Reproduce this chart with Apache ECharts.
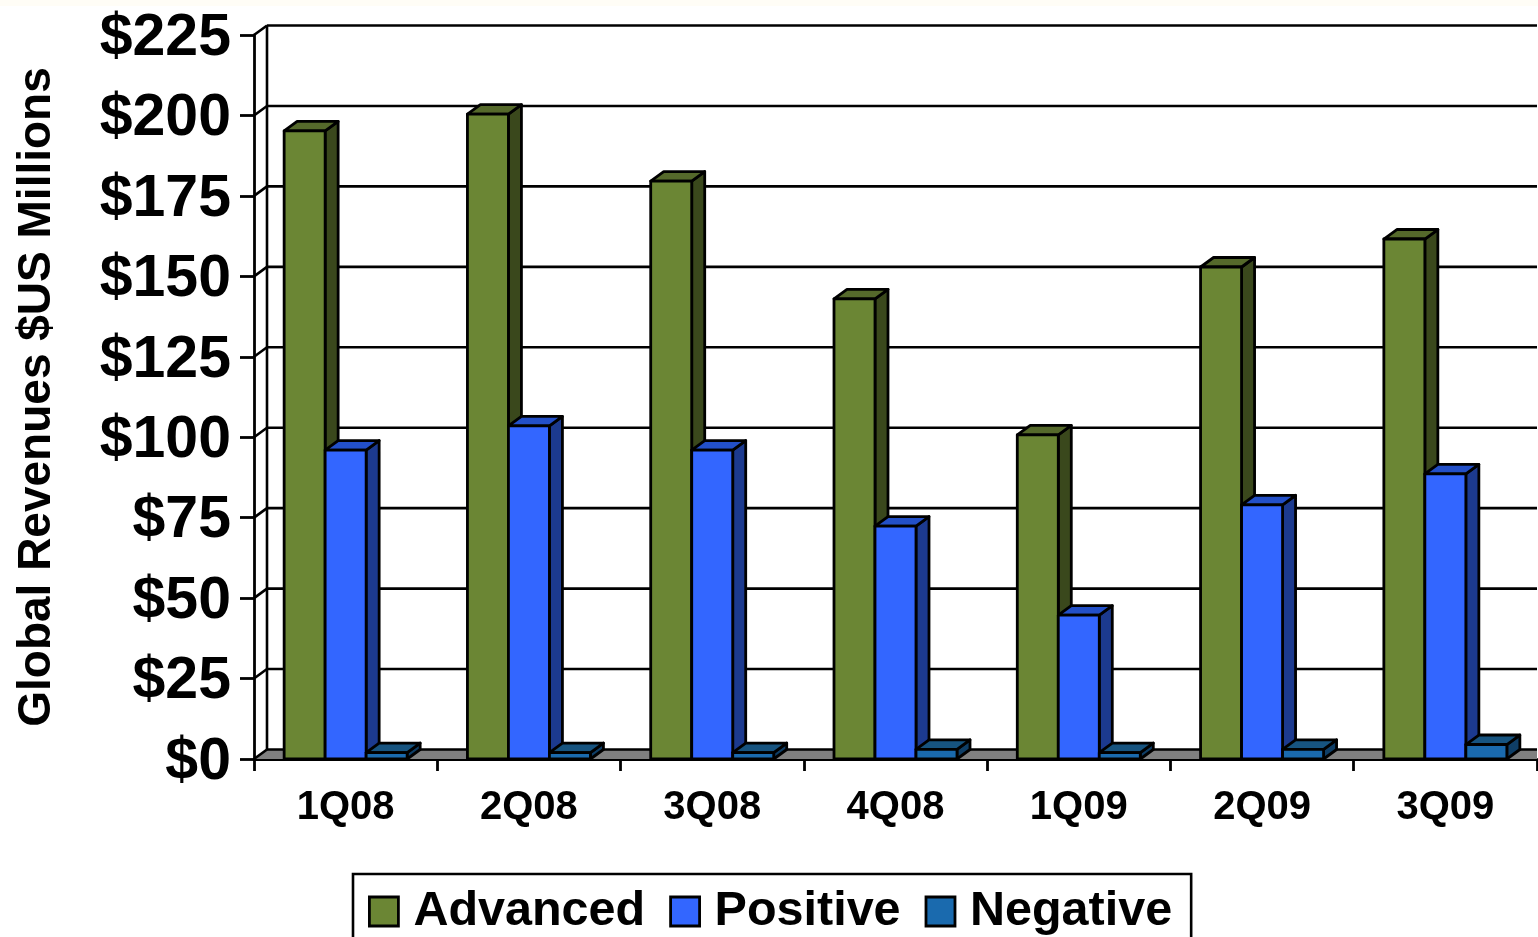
<!DOCTYPE html>
<html><head><meta charset="utf-8">
<style>html,body{margin:0;padding:0;background:#fff;overflow:hidden;width:1538px;height:937px}
#c{width:1538px;height:937px}</style>
<script src="https://cdn.jsdelivr.net/npm/echarts@6/dist/echarts.min.js"></script>
</head><body><div id="c"></div>
<script>
const categories = ['1Q08','2Q08','3Q08','4Q08','1Q09','2Q09','3Q09'];
const advanced = [195.2,200.4,179.6,143,100.7,152.9,161.6];
const positive = [96,103.5,96,72.4,44.7,79,88.6];
const negative = [2,2,2,3,2,3,4.5];
const gridValues = [0,25,50,75,100,125,150,175,200,225];
const font = '"Liberation Sans",Arial,sans-serif';
const DX = 13, DY = 9.5, BAR = 0.2237;
function bar(colors, idx){
  return function(params, api){
    const base = api.coord([api.value(0),0]), top = api.coord([api.value(0),api.value(1)]);
    const band = api.size([1,0])[0], w = band*BAR;
    const x = base[0]+(idx-1.5)*w, y = top[1], b = base[1];
    const line = {stroke:'#000',lineWidth:2.8,lineJoin:'round'};
    return {type:'group',children:[
      {type:'polygon',shape:{points:[[x+w,y],[x+w+DX,y-DY],[x+w+DX,b-DY],[x+w,b]]},style:Object.assign({fill:colors[1]},line)},
      {type:'polygon',shape:{points:[[x,y],[x+DX,y-DY],[x+w+DX,y-DY],[x+w,y]]},style:Object.assign({fill:colors[2]},line)},
      {type:'rect',shape:{x:x,y:y,width:w,height:b-y},style:Object.assign({fill:colors[0]},line)}
    ]};
  };
}
function wall(params, api){
  const cs = params.coordSys, v = api.value(1), y = api.coord([0,v])[1];
  const x0 = cs.x, x1 = cs.x+cs.width, s = {stroke:'#000',lineWidth:2.6}, kids = [];
  if(v===0){
    kids.push({type:'polygon',shape:{points:[[x0,y],[x0+DX,y-DY],[x1,y-DY],[x1,y]]},style:{fill:'#808080'}});
    kids.push({type:'line',shape:{x1:x0+DX,y1:y-DY,x2:x0+DX,y2:api.coord([0,225])[1]-DY},style:s});
  }
  kids.push({type:'line',shape:{x1:x0,y1:y,x2:x0+DX,y2:y-DY},style:s});
  kids.push({type:'line',shape:{x1:x0+DX,y1:y-DY,x2:x1,y2:y-DY},style:s});
  return {type:'group',children:kids};
}
const green=['#6B8634','#3A481C','#55692B'], blue=['#3366FF','#1C3A8F','#2350C8'], navy=['#1A6AAE','#0F3E66','#175480'];
const chart = echarts.init(document.getElementById('c'));
function mk(name,data,colors,idx){
  return {name:name,type:'custom',coordinateSystem:'cartesian2d',clip:false,itemStyle:{color:colors[0]},
    encode:{x:0,y:1},data:data.map((v,i)=>[i,v]),renderItem:bar(colors,idx),animation:false};
}
chart.setOption({
  animation:false,
  backgroundColor:'#fff',
  grid:{left:254,right:1,top:35,bottom:178,containLabel:false},
  graphic:[{type:'rect',silent:true,z:-1,shape:{x:0,y:0,width:1538,height:6},style:{fill:'#FFFDF6'}}],
  legend:{left:353,top:874,orient:'horizontal',padding:[13,19,23,15],
    borderColor:'#000',borderWidth:2.6,backgroundColor:'#fff',
    itemWidth:29,itemHeight:29,itemGap:24,selectedMode:false,
    textStyle:{fontFamily:font,fontWeight:'bold',fontSize:48.5,color:'#000',padding:[10,0,0,10]},
    data:[{name:'Advanced',icon:'rect',itemStyle:{color:green[0],borderColor:'#000',borderWidth:2.8}},
          {name:'Positive',icon:'rect',itemStyle:{color:blue[0],borderColor:'#000',borderWidth:2.8}},
          {name:'Negative',icon:'rect',itemStyle:{color:navy[0],borderColor:'#000',borderWidth:2.8}}]},
  xAxis:{type:'category',data:categories,boundaryGap:true,
    axisLine:{show:true,onZero:false,lineStyle:{color:'#000',width:2.8}},
    axisTick:{show:true,alignWithLabel:false,length:12,lineStyle:{color:'#000',width:2.8}},
    axisLabel:{fontFamily:font,fontWeight:'bold',fontSize:40,color:'#000',margin:29,interval:0}},
  yAxis:{type:'value',min:0,max:225,interval:25,
    name:'Global Revenues $US Millions',nameLocation:'middle',nameGap:217,
    nameTextStyle:{fontFamily:font,fontWeight:'bold',fontSize:46,color:'#000',verticalAlign:'middle'},
    axisLine:{show:true,lineStyle:{color:'#000',width:2.8}},
    axisTick:{show:true,length:14,lineStyle:{color:'#000',width:2.8}},
    splitLine:{show:false},
    axisLabel:{fontFamily:font,fontWeight:'bold',fontSize:59,color:'#000',margin:23,verticalAlign:'top',padding:[-26,0,0,0],formatter:'${value}'}},
  series:[
    {name:'wall',type:'custom',coordinateSystem:'cartesian2d',clip:false,silent:true,z:1,
     encode:{x:0,y:1},data:gridValues.map(v=>[0,v]),renderItem:wall},
    mk('Advanced',advanced,green,0),
    mk('Positive',positive,blue,1),
    mk('Negative',negative,navy,2)
  ]
});
</script></body></html>
